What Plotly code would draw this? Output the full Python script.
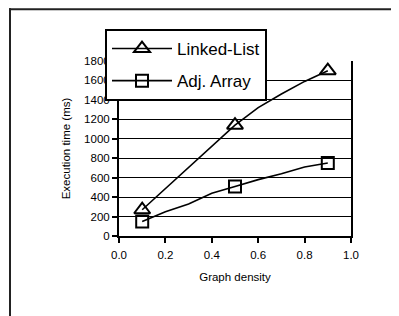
import plotly.graph_objects as go

# ---- data ----
density = [0.1, 0.2, 0.3, 0.4, 0.5, 0.6, 0.7, 0.8, 0.9]
linked_list = [270, 490, 710, 930, 1140, 1320, 1460, 1590, 1700]
adj_array = [150, 250, 330, 440, 510, 580, 640, 710, 750]
marked_points = [0.1, 0.5, 0.9]          # densities that carry a marker
series_names = ["Linked-List", "Adj. Array"]
x_ticks = [0.0, 0.2, 0.4, 0.6, 0.8, 1.0]
y_ticks = [0, 200, 400, 600, 800, 1000, 1200, 1400, 1600, 1800]

# ---- layout geometry (window pixels; page body has an 8px margin) ----
PAGE = 8
WIN_W, WIN_H = 399, 316
W, H = WIN_W - PAGE, WIN_H - PAGE
PL, PR, PT, PB = 119, 351, 61, 236      # plot area in window pixels
pw, ph = PR - PL, PB - PT


def px_x(px):
    return (px - PL) / pw


def px_y(py):
    return (PB - py) / ph


FONT = "Liberation Sans, Arial, sans-serif"
LINE = dict(color="black", width=1.6)
SYMBOLS = [dict(symbol="triangle-up-open", size=14),
           dict(symbol="square-open", size=12)]

fig = go.Figure()
for name, values, sym in zip(series_names, [linked_list, adj_array], SYMBOLS):
    marker = dict(symbol=sym["symbol"], size=sym["size"], color="black",
                  line=dict(width=2, color="black"))
    # polyline through every measured density
    fig.add_trace(go.Scatter(x=density, y=values, mode="lines", line=LINE,
                             showlegend=False, hoverinfo="skip"))
    # markers only at the marked densities
    mx = [d for d in density if d in marked_points]
    my = [v for d, v in zip(density, values) if d in marked_points]
    fig.add_trace(go.Scatter(x=mx, y=my, mode="markers", marker=marker,
                             showlegend=False, name=name))
    # legend entry (line + marker)
    fig.add_trace(go.Scatter(x=[None], y=[None], mode="lines+markers",
                             line=LINE, marker=marker, name=name,
                             legendgroup=name))

FRAME = dict(color="#222", width=2)
fig.update_layout(
    width=W, height=H,
    margin=dict(l=PL - PAGE, r=WIN_W - PR, t=PT - PAGE, b=WIN_H - PB,
                pad=0, autoexpand=False),
    paper_bgcolor="white", plot_bgcolor="white",
    font=dict(family=FONT, size=11.5, color="black"),
    showlegend=True,
    legend=dict(
        x=px_x(105), y=px_y(29), xanchor="left", yanchor="top",
        bgcolor="white", bordercolor="black", borderwidth=2,
        font=dict(family=FONT, size=17, color="black"),
        itemwidth=60, tracegroupgap=7,
    ),
    shapes=[
        dict(type="line", xref="paper", yref="paper",
             x0=px_x(10), x1=px_x(10), y0=px_y(330), y1=px_y(8.2),
             line=FRAME, layer="below"),
        dict(type="line", xref="paper", yref="paper",
             x0=px_x(9), x1=px_x(410), y0=px_y(9.2), y1=px_y(9.2),
             line=FRAME, layer="below"),
    ],
)

fig.update_xaxes(
    range=[0, 1], tickvals=x_ticks, tickformat=".1f",
    showgrid=False, zeroline=False, automargin=False,
    showline=True, linecolor="black", linewidth=2,
    ticks="outside", ticklen=5, tickwidth=1.5, tickcolor="black",
    ticklabelstandoff=2,
    title=dict(text="Graph density", font=dict(size=11.5), standoff=13),
)
fig.update_yaxes(
    range=[0, 1800], tickvals=y_ticks,
    showgrid=True, gridcolor="black", gridwidth=1, zeroline=False,
    automargin=False,
    showline=True, linecolor="black", linewidth=2, mirror=True,
    ticks="outside", ticklen=5, tickwidth=1.5, tickcolor="black",
    ticklabelstandoff=0,
    title=dict(text="Execution time (ms)", font=dict(size=11.5), standoff=11),
)

fig.write_html("out.html")
